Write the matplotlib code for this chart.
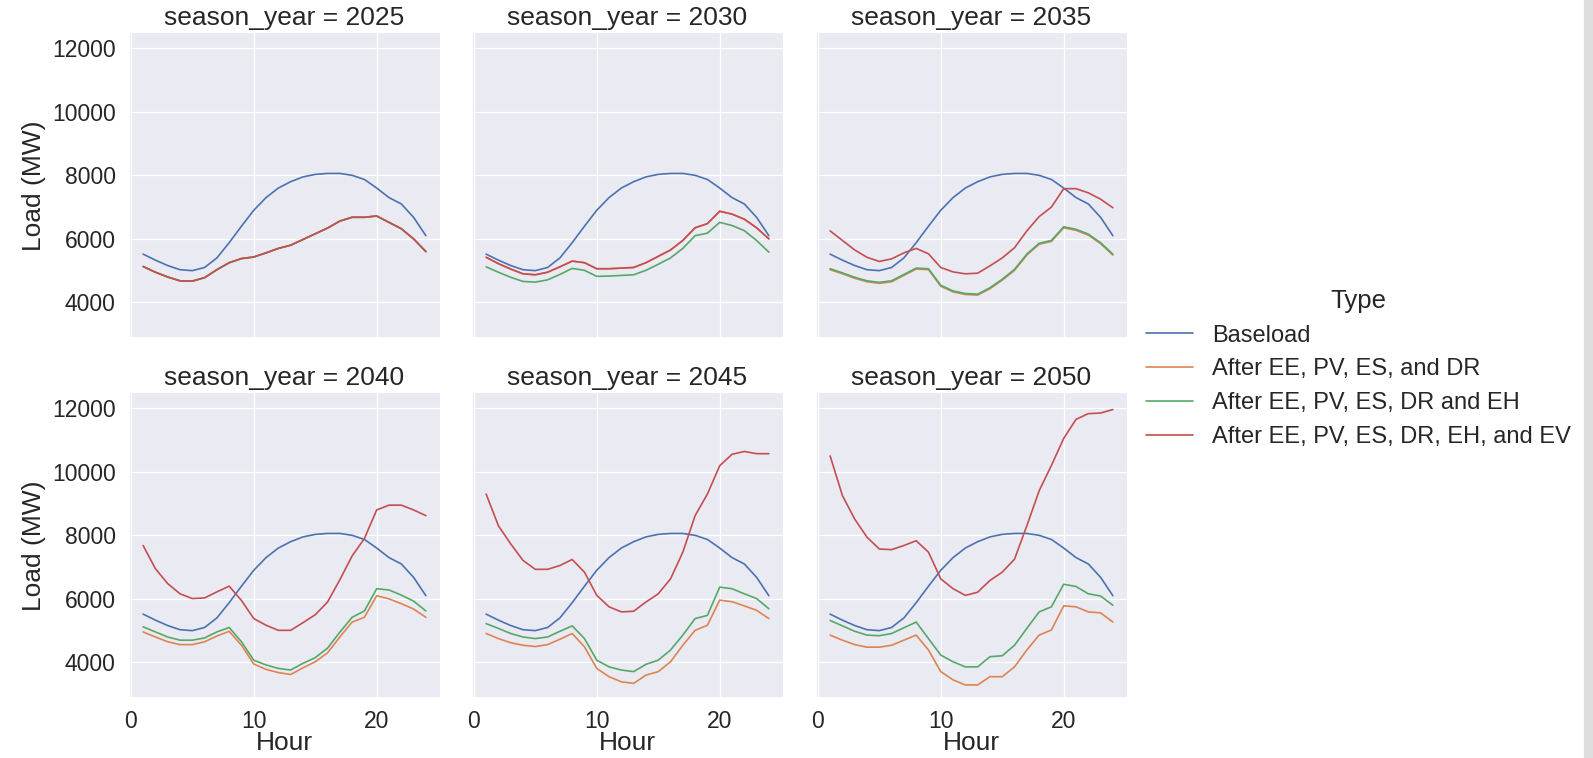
import numpy as np
import pandas as pd
import seaborn as sns
import matplotlib.pyplot as plt
from matplotlib.patches import Rectangle

#----------------------------------------------------------------------
# data (hourly load, MW)

hours = list(range(1, 25))
years = [2025, 2030, 2035, 2040, 2045, 2050]
types = ["Baseload",
         "After EE, PV, ES, and DR",
         "After EE, PV, ES, DR and EH",
         "After EE, PV, ES, DR, EH, and EV"]

baseload = [5520, 5330, 5160, 5030, 5000, 5100, 5400, 5880, 6400, 6900, 7300, 7600,
            7800, 7950, 8030, 8060, 8060, 8000, 7870, 7600, 7300, 7100, 6680, 6100]

dr_2025 = [5130, 4950, 4800, 4680, 4670, 4780, 5030, 5250, 5380, 5430, 5560, 5700,
           5800, 5980, 6160, 6340, 6560, 6680, 6680, 6720, 6520, 6320, 6000, 5600]
eh_2025 = dr_2025
ev_2025 = dr_2025

dr_2030 = [5420, 5220, 5050, 4900, 4870, 4950, 5120, 5300, 5250, 5060, 5060, 5080,
           5100, 5250, 5450, 5650, 5950, 6350, 6480, 6870, 6780, 6620, 6350, 6000]
eh_2030 = [5120, 4950, 4790, 4660, 4640, 4710, 4880, 5070, 5010, 4820, 4830, 4850,
           4870, 5010, 5200, 5400, 5700, 6100, 6180, 6520, 6420, 6260, 5950, 5580]
ev_2030 = dr_2030

dr_2035 = [5030, 4900, 4760, 4650, 4600, 4650, 4850, 5050, 5030, 4510, 4330, 4250,
           4230, 4430, 4700, 5010, 5490, 5830, 5920, 6350, 6270, 6120, 5850, 5490]
eh_2035 = [5060, 4930, 4790, 4680, 4630, 4680, 4880, 5080, 5060, 4540, 4360, 4280,
           4260, 4460, 4730, 5040, 5520, 5860, 5950, 6380, 6300, 6150, 5880, 5520]
ev_2035 = [6250, 5950, 5650, 5420, 5290, 5370, 5560, 5700, 5530, 5100, 4960, 4900,
           4920, 5150, 5400, 5720, 6250, 6700, 7000, 7580, 7580, 7450, 7250, 6980]

dr_2040 = [4960, 4800, 4650, 4560, 4560, 4650, 4830, 4980, 4540, 3950, 3780, 3680,
           3620, 3830, 4020, 4300, 4800, 5270, 5420, 6100, 6000, 5850, 5680, 5420]
eh_2040 = [5120, 4960, 4800, 4700, 4700, 4770, 4960, 5100, 4650, 4070, 3920, 3810,
           3760, 3970, 4150, 4450, 4950, 5420, 5620, 6320, 6280, 6120, 5930, 5620]
ev_2040 = [7680, 6950, 6480, 6160, 6010, 6030, 6220, 6400, 5950, 5380, 5170, 5010,
           5010, 5250, 5500, 5900, 6600, 7350, 7900, 8800, 8950, 8950, 8800, 8620]

dr_2045 = [4910, 4750, 4620, 4540, 4500, 4560, 4730, 4910, 4490, 3810, 3550, 3390,
           3340, 3600, 3710, 4020, 4540, 5010, 5170, 5960, 5910, 5780, 5640, 5380]
eh_2045 = [5220, 5070, 4910, 4800, 4750, 4800, 4980, 5150, 4750, 4070, 3860, 3760,
           3710, 3940, 4070, 4390, 4860, 5380, 5480, 6370, 6320, 6160, 6010, 5690]
ev_2045 = [9300, 8300, 7730, 7210, 6930, 6930, 7050, 7240, 6840, 6110, 5750, 5590,
           5610, 5900, 6160, 6630, 7470, 8620, 9300, 10190, 10550, 10640, 10570, 10570]

dr_2050 = [4860, 4700, 4560, 4480, 4480, 4540, 4700, 4860, 4390, 3710, 3450, 3290,
           3290, 3550, 3550, 3860, 4390, 4860, 5020, 5780, 5750, 5590, 5560, 5270]
eh_2050 = [5320, 5150, 4980, 4860, 4840, 4910, 5090, 5270, 4750, 4230, 4020, 3860,
           3860, 4180, 4210, 4540, 5070, 5590, 5750, 6460, 6390, 6160, 6090, 5800]
ev_2050 = [10500, 9250, 8510, 7940, 7570, 7550, 7680, 7830, 7470, 6630, 6320, 6110,
           6210, 6580, 6840, 7250, 8300, 9400, 10200, 11050, 11650, 11830, 11850, 11960]

series = {
    2025: [baseload, dr_2025, eh_2025, ev_2025],
    2030: [baseload, dr_2030, eh_2030, ev_2030],
    2035: [baseload, dr_2035, eh_2035, ev_2035],
    2040: [baseload, dr_2040, eh_2040, ev_2040],
    2045: [baseload, dr_2045, eh_2045, ev_2045],
    2050: [baseload, dr_2050, eh_2050, ev_2050],
}

rows = []
for yr in years:
    for t, vals in zip(types, series[yr]):
        for h, v in zip(hours, vals):
            rows.append((yr, t, h, v))
df = pd.DataFrame(rows, columns=["season_year", "Type", "Hour", "Load (MW)"])

#----------------------------------------------------------------------

sns.set_theme(style="darkgrid", rc={
    "xtick.labelsize": 16.5, "ytick.labelsize": 16.5,
    "axes.labelsize": 19, "axes.titlesize": 18.5,
    "legend.fontsize": 17, "legend.title_fontsize": 18.5,
    "grid.linewidth": 0.9, "xtick.major.pad": 2.5,
})
plt.rcParams["font.family"] = ["Liberation Sans", "DejaVu Sans"]

g = sns.relplot(data=df, x="Hour", y="Load (MW)", hue="Type", hue_order=types,
                col="season_year", col_wrap=3, kind="line", linewidth=1.2,
                height=3, aspect=1)
fig = g.figure
fig.set_size_inches(15.93, 7.58)

W, H = 1593.0, 758.0
lefts = [129, 472, 816]
tops = [33, 393]
for i, ax in enumerate(g.axes.flat):
    r, c = divmod(i, 3)
    ax.set_position([lefts[c] / W, 1 - (tops[r] + 305) / H, 311 / W, 305 / H])
    ax.set_ylim(2880, 12480)
    if r == 1:
        ax.set_xlabel("Hour", labelpad=-1)

sns.move_legend(g, "center left", bbox_to_anchor=(0.706, 0.514), frameon=False)

# grey strip at the right edge of the screenshot
fig.patches.append(Rectangle((1584 / W, 0), 9 / W, 1, transform=fig.transFigure,
                             color="#dedede", zorder=0))

fig.savefig("out.png", dpi=100)
